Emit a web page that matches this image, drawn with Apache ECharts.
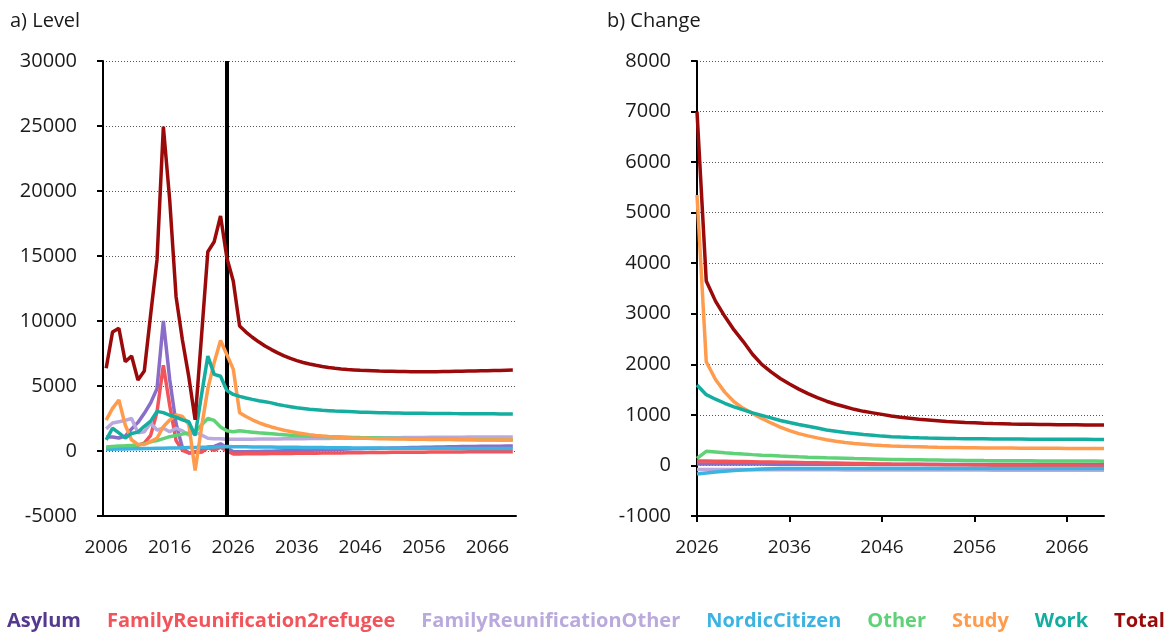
<!DOCTYPE html>
<html>
<head>
<meta charset="utf-8">
<title>Level and change</title>
<script src="https://cdn.jsdelivr.net/npm/echarts@6/dist/echarts.min.js"></script>
<style>
	html, body { margin: 0; padding: 0; background: #fff; }
	#chart { width: 1175px; height: 632px; }
</style>
</head>
<body>
<div id="chart"></div>
<script>
// categories
var levelYears = [];
for(var y = 2006; y <= 2070; y++) levelYears.push(String(y));
var changeYears = [];
for(var y2 = 2026; y2 <= 2070; y2++) changeYears.push(String(y2));

var seriesNames = ['Asylum', 'FamilyReunification2refugee', 'FamilyReunificationOther', 'NordicCitizen', 'Other', 'Study', 'Work', 'Total'];

// a) Level, 2006-2070
var asylumLevel = [1080, 1080, 1000, 1150, 1700, 2200, 2900, 3700, 4800, 10000,
	5500, 2100, 250, -150, -100, 150, 300, 350, 550, 250,
	-50, -60, -50, -40, -30, -20, -10, 0, 10, 20,
	30, 45, 60, 75, 90, 105, 120, 135, 150, 165,
	180, 190, 200, 210, 220, 230, 240, 250, 260, 270,
	280, 290, 300, 310, 320, 330, 340, 350, 355, 360,
	365, 370, 375, 378, 380];
var fr2Level = [200, 250, 300, 350, 400, 450, 600, 1200, 3000, 6600,
	3500, 800, 50, -150, -50, -100, 250, 50, 300, 0,
	-230, -225, -220, -215, -210, -205, -200, -195, -190, -185,
	-180, -175, -170, -165, -160, -155, -150, -145, -140, -135,
	-130, -125, -120, -115, -110, -105, -100, -97, -94, -91,
	-88, -85, -82, -79, -76, -73, -70, -67, -64, -61,
	-58, -56, -54, -52, -50];
var froLevel = [1700, 2150, 2250, 2350, 2500, 1400, 1480, 2130, 1620, 1750,
	1480, 1750, 1550, 1230, 1480, 1230, 980, 950, 950, 900,
	900, 900, 905, 910, 915, 920, 925, 930, 935, 940,
	945, 950, 955, 960, 965, 970, 975, 980, 985, 990,
	995, 1000, 1005, 1010, 1015, 1020, 1025, 1030, 1035, 1040,
	1045, 1050, 1055, 1058, 1061, 1064, 1067, 1070, 1072, 1074,
	1076, 1077, 1078, 1079, 1080];
var nordicLevel = [130, 140, 150, 160, 170, 180, 190, 200, 210, 220,
	230, 240, 250, 260, 270, 280, 290, 300, 320, 350,
	330, 325, 320, 315, 310, 305, 300, 295, 290, 285,
	280, 275, 270, 265, 260, 255, 250, 246, 242, 238,
	234, 230, 227, 224, 221, 218, 215, 213, 211, 209,
	207, 205, 204, 203, 202, 201, 200, 200, 200, 200,
	200, 200, 200, 200, 200];
var otherLevel = [300, 350, 380, 400, 430, 460, 550, 700, 800, 950,
	1100, 1200, 1300, 1380, 1480, 2000, 2500, 2350, 1850, 1550,
	1480, 1560, 1500, 1450, 1400, 1360, 1320, 1280, 1250, 1220,
	1190, 1170, 1150, 1135, 1120, 1105, 1090, 1075, 1060, 1045,
	1030, 1020, 1010, 1000, 990, 980, 970, 960, 950, 942,
	934, 926, 918, 910, 902, 895, 888, 881, 874, 868,
	863, 859, 855, 852, 850];
var studyLevel = [2380, 3280, 3920, 2000, 850, 500, 500, 720, 980, 1870,
	2380, 2770, 2650, 2050, -1500, 1800, 4800, 6800, 8500, 7400,
	6300, 2950, 2650, 2400, 2180, 2000, 1850, 1720, 1600, 1500,
	1400, 1330, 1260, 1200, 1150, 1110, 1080, 1050, 1025, 1005,
	990, 975, 962, 950, 940, 930, 922, 915, 908, 902,
	896, 890, 885, 880, 875, 870, 866, 862, 858, 855,
	853, 851, 850, 850, 850];
var workLevel = [850, 1750, 1400, 1000, 1350, 1450, 1900, 2300, 3050, 2950,
	2750, 2600, 2400, 2250, 1200, 4300, 7300, 5900, 5750, 4650,
	4350, 4200, 4080, 3970, 3870, 3790, 3700, 3580, 3490, 3410,
	3330, 3270, 3210, 3170, 3130, 3100, 3070, 3050, 3030, 3010,
	2990, 2980, 2965, 2950, 2940, 2930, 2920, 2910, 2900, 2900,
	2895, 2890, 2890, 2885, 2880, 2875, 2870, 2865, 2862, 2860,
	2858, 2856, 2854, 2852, 2850];
var totalLevel = [6360, 9150, 9440, 6870, 7310, 5460, 6150, 10500, 14700, 24950,
	19300, 11870, 8540, 5720, 2400, 8800, 15330, 16100, 18080, 14850,
	13080, 9620, 9150, 8750, 8400, 8080, 7800, 7550, 7320, 7120,
	6950, 6810, 6690, 6590, 6500, 6420, 6360, 6310, 6270, 6240,
	6210, 6190, 6170, 6150, 6140, 6130, 6120, 6110, 6100, 6100,
	6100, 6100, 6100, 6110, 6120, 6130, 6140, 6150, 6160, 6170,
	6180, 6190, 6200, 6215, 6230];

// b) Change, 2026-2070
var asylumChange = [30, 30, 29, 29, 28, 28, 27, 27, 26, 26,
	25, 25, 24, 24, 23, 23, 22, 22, 22, 21,
	21, 21, 20, 20, 20, 20, 20, 20, 20, 20,
	20, 20, 20, 20, 20, 20, 20, 20, 20, 20,
	20, 20, 20, 20, 20];
var fr2Change = [90, 88, 85, 82, 79, 76, 73, 70, 67, 64,
	61, 58, 55, 52, 49, 46, 43, 40, 37, 34,
	31, 28, 26, 24, 22, 20, 18, 16, 14, 12,
	10, 8, 6, 4, 2, 0, -2, -4, -5, -6,
	-7, -8, -9, -10, -10];
var froChange = [-80, -80, -81, -81, -82, -82, -83, -83, -84, -84,
	-85, -85, -86, -86, -87, -87, -88, -88, -88, -89,
	-89, -89, -90, -90, -90, -91, -91, -91, -92, -92,
	-92, -92, -93, -93, -93, -93, -94, -94, -94, -94,
	-95, -95, -95, -95, -95];
var nordicChange = [-170, -150, -130, -115, -100, -90, -80, -72, -66, -62,
	-60, -59, -59, -58, -58, -58, -58, -58, -58, -58,
	-58, -58, -58, -58, -58, -58, -58, -58, -58, -58,
	-58, -58, -58, -58, -58, -58, -58, -58, -58, -58,
	-58, -58, -58, -58, -58];
var otherChange = [140, 280, 265, 250, 237, 225, 214, 204, 195, 186,
	178, 170, 163, 157, 151, 146, 141, 136, 132, 128,
	124, 120, 117, 114, 111, 108, 106, 104, 102, 100,
	98, 96, 95, 94, 93, 92, 91, 90, 89, 88,
	87, 87, 86, 86, 85];
var studyChange = [5350, 2050, 1700, 1450, 1260, 1130, 1030, 930, 840, 760,
	690, 630, 585, 545, 510, 480, 455, 435, 420, 405,
	395, 387, 380, 374, 369, 364, 360, 357, 354, 351,
	349, 347, 345, 344, 343, 342, 341, 340, 339, 338,
	337, 336, 336, 335, 335];
var workChange = [1590, 1400, 1310, 1230, 1160, 1100, 1040, 990, 940, 890,
	850, 810, 775, 740, 700, 675, 650, 630, 610, 595,
	580, 570, 561, 554, 548, 543, 539, 535, 532, 530,
	528, 526, 524, 523, 522, 521, 520, 519, 518, 517,
	517, 516, 516, 515, 515];
var totalChange = [7000, 3650, 3250, 2950, 2680, 2450, 2200, 2000, 1850, 1720,
	1610, 1510, 1420, 1340, 1270, 1210, 1160, 1110, 1070, 1040,
	1010, 980, 955, 935, 915, 900, 885, 870, 860, 850,
	843, 836, 830, 825, 820, 816, 813, 810, 808, 806,
	804, 803, 802, 801, 800];

var levelData = [asylumLevel, fr2Level, froLevel, nordicLevel, otherLevel, studyLevel, workLevel, totalLevel];
var changeData = [asylumChange, fr2Change, froChange, nordicChange, otherChange, studyChange, workChange, totalChange];

var lineColors = ['#8a6dc7', '#f2545b', '#b9a9dd', '#3db3e1', '#5fd177', '#ff9b4c', '#14ad9f', '#9b0a0a'];
var legendColors = ['#55398f', '#f2545b', '#b9a9dd', '#3db3e1', '#5fd177', '#ff9b4c', '#14ad9f', '#9b0a0a'];

var FONT = '"Open Sans", "DejaVu Sans", sans-serif';

function xAxisFor(grid, data, gap) {
	return {
		type: 'category',
		gridIndex: grid,
		data: data,
		boundaryGap: gap,
		axisLine: { onZero: false, lineStyle: { color: '#000', width: 2 } },
		axisTick: { interval: 9, length: 6, lineStyle: { color: '#000', width: 2 } },
		axisLabel: { interval: 9, margin: 22, fontSize: 19, color: '#1a1a1a', fontFamily: FONT },
		splitLine: { show: false }
	};
}

function yAxisFor(grid, min, max, step) {
	return {
		type: 'value',
		gridIndex: grid,
		min: min,
		max: max,
		interval: step,
		axisLine: { show: true, onZero: false, lineStyle: { color: '#000', width: 2 } },
		axisTick: { show: true, length: 6, lineStyle: { color: '#000', width: 2 } },
		axisLabel: {
			margin: 26,
			fontSize: 20,
			color: '#1a1a1a',
			fontFamily: FONT,
			formatter: function(v) { return String(v); }
		},
		splitLine: { show: true, lineStyle: { color: '#555', width: 1, type: [1, 2] } }
	};
}

var series = [];
for(var i = 0; i < seriesNames.length; i++) {
	var s = {
		name: seriesNames[i],
		type: 'line',
		xAxisIndex: 0,
		yAxisIndex: 0,
		data: levelData[i],
		symbol: 'none',
		lineStyle: { width: 3.5, color: lineColors[i] },
		itemStyle: { color: lineColors[i] },
		emphasis: { disabled: true },
		z: 2 + i
	};
	if(seriesNames[i] === 'Total') {
		// black line at the last observed year
		s.markLine = {
			silent: true,
			symbol: ['none', 'none'],
			label: { show: false },
			lineStyle: { color: '#000', width: 4, type: 'solid' },
			data: [{ xAxis: '2025' }]
		};
	}
	series.push(s);
}
for(var j = 0; j < seriesNames.length; j++) {
	series.push({
		name: seriesNames[j],
		type: 'line',
		xAxisIndex: 1,
		yAxisIndex: 1,
		data: changeData[j],
		symbol: 'none',
		lineStyle: { width: 3.5, color: lineColors[j] },
		itemStyle: { color: lineColors[j] },
		emphasis: { disabled: true },
		z: 2 + j
	});
}

var legendItems = [];
for(var k = 0; k < seriesNames.length; k++) {
	legendItems.push({ name: seriesNames[k], textStyle: { color: legendColors[k] } });
}

var myChart = echarts.init(document.getElementById('chart'));
var option = {
	animation: false,
	backgroundColor: '#fff',
	title: [{
		text: 'a) Level',
		left: 5,
		top: 6,
		textStyle: { fontSize: 20, fontWeight: 'normal', color: '#1a1a1a', fontFamily: FONT }
	}, {
		text: 'b) Change',
		left: 602,
		top: 6,
		textStyle: { fontSize: 20, fontWeight: 'normal', color: '#1a1a1a', fontFamily: FONT }
	}],
	legend: {
		left: -4,
		top: 606,
		width: 1200,
		itemGap: 20,
		itemWidth: 0,
		itemHeight: 0,
		selectedMode: false,
		textStyle: { fontSize: 20, fontWeight: 'bold', fontFamily: FONT },
		data: legendItems
	},
	grid: [
		{ left: 103, top: 61, width: 413, height: 455 },
		{ left: 697, top: 61, width: 407, height: 455 }
	],
	xAxis: [xAxisFor(0, levelYears, true), xAxisFor(1, changeYears, false)],
	yAxis: [yAxisFor(0, -5000, 30000, 5000), yAxisFor(1, -1000, 8000, 1000)],
	series: series
};
myChart.setOption(option);
</script>
</body>
</html>
